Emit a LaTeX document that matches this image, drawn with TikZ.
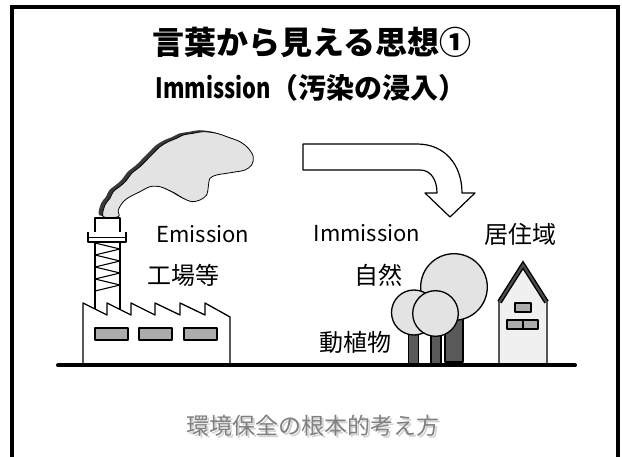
\documentclass[tikz,border=0pt]{standalone}
\usepackage{graphicx}
\usepackage{fontspec}
\newfontfamily\jp{Noto Sans CJK JP}
\begin{document}
\begin{tikzpicture}[x=1pt,y=-1pt,
  outline/.style={draw=black, line width=1.3pt, line join=round},
  windowbox/.style={outline, fill=gray!65},
  leafy/.style={outline, fill=gray!22},
  trunk/.style={outline, fill=gray!70!black},
  caption/.style={font=\jp\fontsize{24}{24}\selectfont, inner sep=0pt},
  latin/.style={font=\jp\fontsize{22}{22}\selectfont, inner sep=0pt, anchor=base},
  heading/.style={font=\jp\bfseries\fontsize{32}{32}\selectfont, inner sep=0pt},
  subheading/.style={font=\jp\bfseries\fontsize{28}{28}\selectfont, inner sep=0pt},
  footnote/.style={font=\jp\fontsize{23}{23}\selectfont, inner sep=0pt, text=gray}
]
\useasboundingbox (0,0) rectangle (622,457);

% slide frame, open at the bottom
\draw[line width=3.4pt] (12,457) -- (12,7) -- (618,7) -- (618,457);

% headings
\node[heading] (title) at (312,42) {言葉から見える思想①};
\node[subheading] (subtitle) at (311,88) {\scalebox{0.78}[1]{Immission}（汚染の浸入）};

% smoke cloud: dark shadow, then the light body
\def\smoke{plot[smooth cycle, tension=0.55] coordinates {
  (103.3,216.7) (105,205) (110,198.3) (113.3,191.7) (121.7,185) (126.7,180)
  (131.7,173.3) (140,166.7) (146.7,160) (153.3,153.3) (160,146.7) (168.3,141.7)
  (176.7,138.3) (183.3,135) (193.3,133.3) (203.3,131.7) (216.7,133.3) (226.7,136.7)
  (240,141.7) (248.3,148.3) (253.3,156.7) (251.7,165) (245,170) (236.7,171.7)
  (226.7,173.3) (216.7,175) (210,178.3) (208.3,186.7) (206.7,195) (200,200)
  (191.7,201.7) (183.3,198.3) (175,193.3) (168.3,190) (160,186.7) (150,186.7)
  (140,191.7) (130,196.7) (123.3,201.7) (118.3,210) (118.3,216.7)}}
\fill[gray!45!black, xshift=-4pt, yshift=1.5pt] \smoke;
\draw[fill=gray!22, draw=black, line width=0.8pt] \smoke;

% chimney
\draw[outline, fill=white] (95,218) rectangle (120,238);
\draw[outline] (95,241) -- (95,309.5);
\draw[outline] (120,241) -- (120,309.5);
\draw[outline, line width=1.1pt] (95,243) -- (120,249) -- (95,255) -- (120,261)
  -- (95,267) -- (120,273) -- (95,279) -- (120,285) -- (95,291);
\draw[outline, fill=white] (88,232) -- (88,242) -- (126,242) -- (126,232);
\draw[outline] (88,237.5) -- (126,237.5);

% factory with saw-tooth roof
\draw[outline, fill=white] (83,365) -- (83,303) -- (107,315) -- (107,303)
  -- (131,315) -- (131,303) -- (155,315) -- (155,303) -- (180,315) -- (180,303)
  -- (205,315) -- (205,303) -- (230,317) -- (230,365);
\draw[windowbox] (95,328) rectangle (128,340);
\draw[windowbox] (139,328) rectangle (172,340);
\draw[windowbox] (184,328) rectangle (217,340);

% curved arrow
\draw[outline, line width=1.2pt, fill=white] (303,144) -- (417,144)
  .. controls (445,144) and (462,165) .. (462,193)
  -- (475,193) -- (450,217) -- (425,193) -- (437,193)
  .. controls (437,180) and (431,170) .. (420,170)
  -- (303,170) -- cycle;

% trees
\draw[trunk] (445,318) rectangle (463,362);
\draw[leafy] (454,287) circle[radius=33.3];
\draw[trunk] (408.5,330) rectangle (418.5,364);
\draw[leafy] (414,312.5) circle[radius=22.5];
\draw[trunk] (431,332) rectangle (441,364);
\draw[leafy] (435.5,313.5) circle[radius=22.8];

% house
\draw[outline, fill=gray!12] (499,364) -- (499,300) -- (523,263) -- (547,300) -- (547,364);
\draw[line width=5pt, line join=miter] (499.5,302) -- (523,265) -- (546.5,302);
\draw[line width=2.2pt, gray!60!black, line join=miter] (499.5,302) -- (523,265) -- (546.5,302);
\draw[windowbox] (515,303) rectangle (531,312);
\draw[windowbox] (507,320) rectangle (538,329);
\draw[outline] (523,320) -- (523,329);

% ground
\draw[line width=4pt, line cap=round] (58,365.5) -- (575,365.5);

% labels
\node[latin] (emission) at (203,243) {Emission};
\node[caption] (factory) at (183,275) {工場等};
\node[latin] (immission) at (367,242) {Immission};
\node[caption] (nature) at (378,275) {自然};
\node[caption] (living) at (355,342) {動植物};
\node[caption] (residence) at (520,234) {居住域};

% closing remark with a soft shadow
\node[footnote, text=gray!35] (remarkshadow) at (314.5,427.5) {環境保全の根本的考え方};
\node[footnote] (remark) at (313,426) {環境保全の根本的考え方};
\end{tikzpicture}
\end{document}
